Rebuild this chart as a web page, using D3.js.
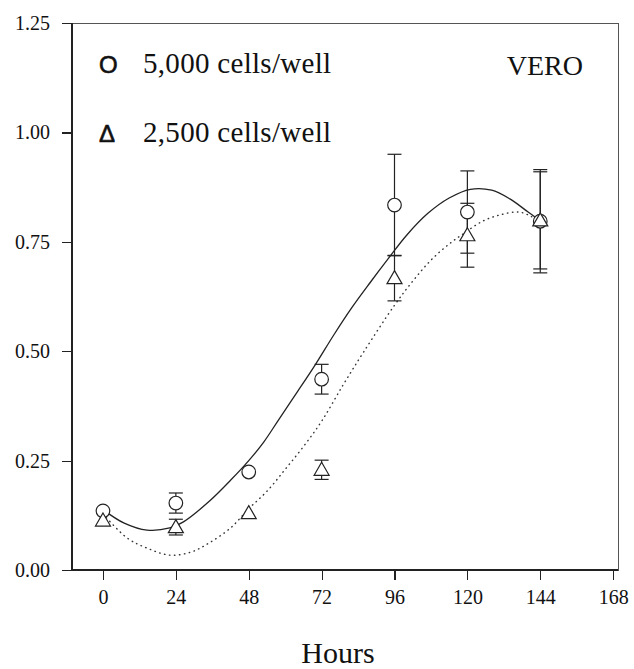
<!DOCTYPE html>
<html lang="en">
<head>
<meta charset="UTF-8">
<script src="https://d3js.org/d3.v7.min.js"></script>
<title>VERO growth</title>
<style>
  body { margin: 0; background: #fff; }
  svg { display: block; font-family: "Liberation Serif", "Times New Roman", serif; }
  .axis path, .axis line { stroke: #222; stroke-width: 1.2; shape-rendering: crispEdges; }
  .axis text { font-size: 20px; fill: #111; font-family: "Liberation Serif", serif; }
  .frame { fill: none; stroke: #555; stroke-width: 1; shape-rendering: crispEdges; }
</style>
</head>
<body>
<div id="chart"></div>
<script>
// measured points (hours vs absorbance)
var hours = [0, 24, 48, 72, 96, 120, 144];
var cells5000 = [0.135, 0.153, 0.224, 0.436, 0.834, 0.818, 0.797];
var err5000 = [0, 0.023, 0, 0.034, 0.116, 0.094, 0.118];
var cells2500 = [0.113, 0.098, 0.130, 0.229, 0.667, 0.765, 0.799];
var err2500 = [0, 0.018, 0, 0.022, 0.052, 0.073, 0.111];

// fitted curves
var fit5000 = [[0,0.138],[7,0.107],[14.5,0.091],[22,0.096],[26.5,0.110],[35,0.157],[42,0.205],[48,0.250],
  [53,0.293],[58,0.345],[64,0.407],[70,0.470],[76,0.537],[82,0.600],[88,0.657],[94,0.712],[100,0.765],
  [107,0.815],[114,0.850],[121,0.870],[128,0.868],[134,0.848],[140,0.818],[144,0.798]];
var fit2500 = [[0,0.128],[8,0.073],[14.5,0.050],[22,0.034],[29,0.041],[35,0.062],[42,0.096],[48,0.140],
  [54,0.180],[60,0.230],[66,0.282],[72,0.340],[79,0.422],[86,0.500],[96,0.605],[102,0.660],[108,0.708],
  [114,0.745],[119,0.770],[125,0.797],[131,0.812],[137,0.818],[141,0.808],[144,0.795]];

var xTicks = [0, 24, 48, 72, 96, 120, 144, 168];
var yTicks = [0, 0.25, 0.5, 0.75, 1.0, 1.25];

var W = 634, H = 669;
var margin = {top: 23, right: 16, bottom: 99, left: 72},
    width = W - margin.left - margin.right,
    height = H - margin.top - margin.bottom;

var x = d3.scaleLinear().domain([-10.2, 169.6]).range([0, width]);
var y = d3.scaleLinear().domain([0, 1.25]).range([height, 0]);

var svg = d3.select("#chart").append("svg")
    .attr("width", W)
    .attr("height", H)
  .append("g")
    .attr("transform", "translate(" + margin.left + "," + margin.top + ")");

// frame
svg.append("rect")
    .attr("class", "frame")
    .attr("x", 0).attr("y", 0)
    .attr("width", width).attr("height", height);

// axes
var xAxis = d3.axisBottom(x).tickValues(xTicks).tickSize(10).tickPadding(10)
    .tickFormat(d3.format("d"));
var yAxis = d3.axisLeft(y).tickValues(yTicks).tickSize(10).tickPadding(12)
    .tickFormat(d3.format(".2f"));

var gx = svg.append("g")
    .attr("class", "axis")
    .attr("transform", "translate(0," + height + ")")
    .call(xAxis);
gx.select(".domain").remove();
gx.append("line").attr("x1", 0).attr("x2", width).attr("stroke", "#222").attr("stroke-width", 1.2);

var gy = svg.append("g")
    .attr("class", "axis")
    .call(yAxis);
gy.select(".domain").remove();
gy.append("line").attr("y1", 0).attr("y2", height).attr("stroke", "#222").attr("stroke-width", 1.2);

// axis title
svg.append("text")
    .attr("x", 266)
    .attr("y", height + 93)
    .attr("text-anchor", "middle")
    .attr("font-size", "30px")
    .attr("fill", "#111")
    .text("Hours");

// curves
var line = d3.line()
    .x(function(d) { return x(d[0]); })
    .y(function(d) { return y(d[1]); })
    .curve(d3.curveCatmullRom);

svg.append("path")
    .datum(fit5000)
    .attr("d", line)
    .attr("fill", "none")
    .attr("stroke", "#222")
    .attr("stroke-width", 1.3);

svg.append("path")
    .datum(fit2500)
    .attr("d", line)
    .attr("fill", "none")
    .attr("stroke", "#333")
    .attr("stroke-width", 1.4)
    .attr("stroke-linecap", "round")
    .attr("stroke-dasharray", "0.5,4.5");

// error bars
function errorBars(vals, errs) {
  var data = hours.map(function(h, i) { return {h: h, v: vals[i], e: errs[i]}; })
      .filter(function(d) { return d.e > 0; });
  var g = svg.append("g").attr("stroke", "#222").attr("stroke-width", 1.2);
  g.selectAll(".stem").data(data).enter().append("line")
      .attr("x1", function(d) { return x(d.h); })
      .attr("x2", function(d) { return x(d.h); })
      .attr("y1", function(d) { return y(d.v - d.e); })
      .attr("y2", function(d) { return y(d.v + d.e); });
  [1, -1].forEach(function(s) {
    g.selectAll(".cap").data(data).enter().append("line")
        .attr("x1", function(d) { return x(d.h) - 7; })
        .attr("x2", function(d) { return x(d.h) + 7; })
        .attr("y1", function(d) { return y(d.v + s * d.e); })
        .attr("y2", function(d) { return y(d.v + s * d.e); });
  });
}
errorBars(cells5000, err5000);
errorBars(cells2500, err2500);

// markers
svg.selectAll(".circ")
    .data(hours)
  .enter().append("circle")
    .attr("class", "circ")
    .attr("cx", function(d) { return x(d); })
    .attr("cy", function(d, i) { return y(cells5000[i]); })
    .attr("r", 6.8)
    .attr("fill", "#fff")
    .attr("stroke", "#222")
    .attr("stroke-width", 1.2);

svg.selectAll(".tri")
    .data(hours)
  .enter().append("path")
    .attr("class", "tri")
    .attr("d", "M0,-7.5L7.5,5.5L-7.5,5.5Z")
    .attr("transform", function(d, i) {
      return "translate(" + x(d) + "," + y(cells2500[i]) + ")";
    })
    .attr("fill", "#fff")
    .attr("stroke", "#222")
    .attr("stroke-width", 1.2);

// legend
var legendItems = ["5,000 cells/well", "2,500 cells/well"];
var legendSymbols = ["O", "\u0394"];
var legend = svg.selectAll(".legend")
    .data(legendItems)
  .enter().append("g")
    .attr("class", "legend")
    .attr("transform", function(d, i) { return "translate(0," + (50 + i * 69) + ")"; });

legend.append("text")
    .attr("x", 27)
    .attr("font-family", "'Liberation Sans', Arial, sans-serif")
    .attr("font-size", "24px")
    .attr("fill", "#111")
    .attr("stroke", "#111")
    .attr("stroke-width", 0.6)
    .text(function(d, i) { return legendSymbols[i]; });

legend.append("text")
    .attr("x", 71)
    .attr("font-size", "29px")
    .attr("letter-spacing", "0.3px")
    .attr("fill", "#111")
    .text(function(d) { return d; });

svg.append("text")
    .attr("x", 511)
    .attr("y", 52)
    .attr("text-anchor", "end")
    .attr("font-size", "28px")
    .attr("fill", "#111")
    .text("VERO");
</script>
</body>
</html>
